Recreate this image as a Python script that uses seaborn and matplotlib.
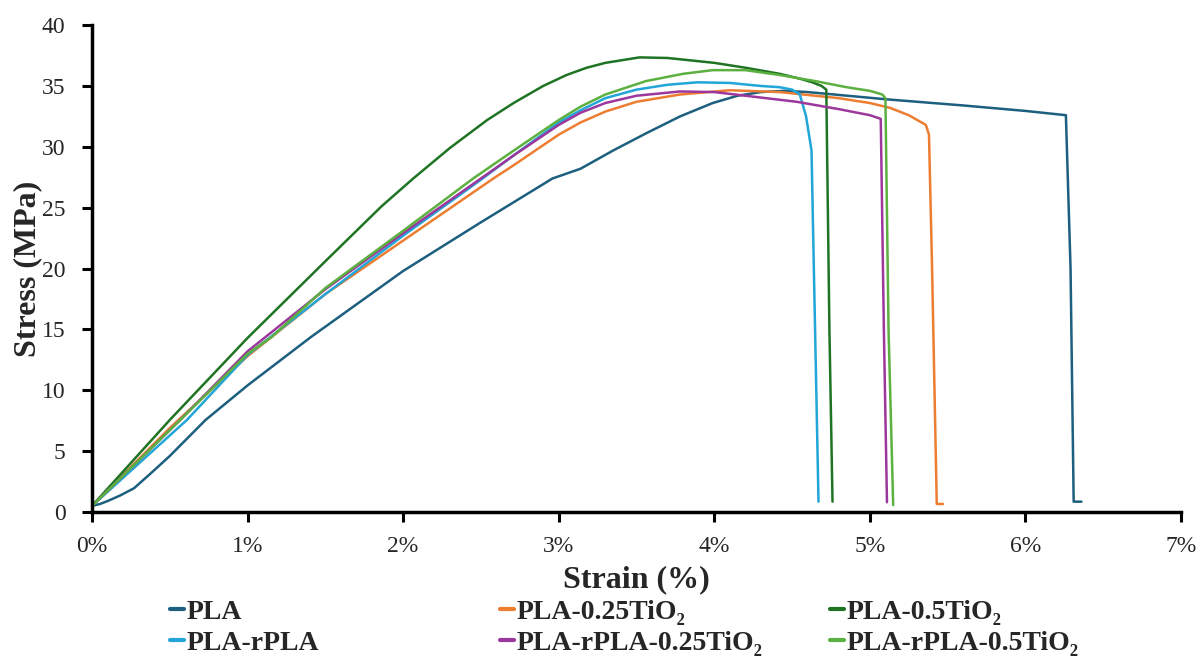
import pandas as pd
import seaborn as sns
import matplotlib.pyplot as plt

# stress-strain curves (strain in %, stress in MPa)
pla_x = [0, 0.05, 0.1, 0.18, 0.27, 0.38, 0.5, 0.73, 1.0, 1.41, 2.0, 2.5, 2.96, 3.14,
         3.35, 3.56, 3.78, 3.99, 4.15, 4.3, 4.45, 4.6, 5.11, 5.6, 6.0, 6.26, 6.29, 6.31, 6.36]
pla_y = [0.5, 0.65, 0.9, 1.35, 1.95, 3.2, 4.6, 7.56, 10.4, 14.4, 19.8, 23.8, 27.4, 28.2,
         29.7, 31.1, 32.5, 33.6, 34.2, 34.5, 34.6, 34.5, 33.9, 33.4, 32.95, 32.6, 20, 0.85, 0.85]

pla025_x = [0, 0.5, 1.0, 1.5, 2.0, 2.58, 2.7, 3.0, 3.14, 3.3, 3.5, 3.78, 4.1, 4.42,
            4.8, 5.0, 5.13, 5.25, 5.36, 5.38, 5.40, 5.43, 5.47]
pla025_y = [0.5, 6.9, 12.8, 17.9, 22.3, 27.4, 28.4, 31.0, 32.0, 32.9, 33.7, 34.3, 34.65, 34.5,
            34.0, 33.6, 33.2, 32.6, 31.8, 31.0, 20, 0.66, 0.66]

pla05_x = [0, 0.5, 1.0, 1.5, 1.86, 2.065, 2.3, 2.54, 2.71, 2.9, 3.05, 3.18, 3.3, 3.52, 3.7, 3.85,
           4.0, 4.2, 4.42, 4.55, 4.63, 4.69, 4.72, 4.74, 4.76]
pla05_y = [0.5, 7.56, 14.3, 20.6, 25.1, 27.4, 29.9, 32.2, 33.6, 35.0, 35.9, 36.5, 36.9, 37.35, 37.3, 37.1,
           36.9, 36.5, 36.0, 35.6, 35.3, 35.0, 34.7, 15, 0.85]

rpla_x = [0, 0.61, 1.0, 1.5, 2.0, 2.5, 2.7, 3.0, 3.14, 3.3, 3.5, 3.7, 3.89, 4.1, 4.3,
          4.42, 4.5, 4.55, 4.59, 4.625, 4.64, 4.67]
rpla_y = [0.5, 7.56, 12.9, 17.9, 22.7, 27.3, 29.2, 32.0, 33.0, 34.0, 34.7, 35.1, 35.3, 35.25, 35.0,
          34.9, 34.7, 34.3, 32.5, 29.7, 20, 0.85]

rpla025_x = [0, 0.567, 1.0, 1.5, 2.0, 2.5, 2.7, 3.0, 3.14, 3.3, 3.5, 3.78, 4.0, 4.2,
             4.53, 4.8, 5.0, 5.07, 5.09, 5.11]
rpla025_y = [0.5, 7.56, 13.2, 18.3, 22.9, 27.4, 29.2, 31.8, 32.8, 33.6, 34.2, 34.55, 34.5, 34.2,
             33.7, 33.1, 32.6, 32.3, 15, 0.8]

rpla05_x = [0, 0.567, 1.0, 1.157, 1.5, 2.0, 2.45, 2.7, 3.0, 3.14, 3.3, 3.56, 3.8, 3.99,
            4.2, 4.42, 4.65, 4.85, 5.0, 5.08, 5.10, 5.12, 5.15]
rpla05_y = [0.5, 7.56, 13.0, 14.4, 18.4, 23.1, 27.4, 29.6, 32.2, 33.3, 34.3, 35.4, 36.0, 36.3,
            36.3, 35.9, 35.4, 34.9, 34.6, 34.3, 34.0, 15, 0.57]

names = ["PLA", "PLA-0.25TiO₂", "PLA-0.5TiO₂",
         "PLA-rPLA", "PLA-rPLA-0.25TiO₂", "PLA-rPLA-0.5TiO₂"]
colors = ["#1d5f7e", "#ed7d31", "#1f7424", "#22a5d8", "#9c379c", "#5cb040"]
curves = [(pla_x, pla_y), (pla025_x, pla025_y), (pla05_x, pla05_y),
          (rpla_x, rpla_y), (rpla025_x, rpla025_y), (rpla05_x, rpla05_y)]

x_ticks = [0, 1, 2, 3, 4, 5, 6, 7]
x_labels = ["0%", "1%", "2%", "3%", "4%", "5%", "6%", "7%"]
y_ticks = [0, 5, 10, 15, 20, 25, 30, 35, 40]

sns.set_style("ticks")
plt.rcParams["font.family"] = ["Liberation Serif", "DejaVu Serif"]

fig = plt.figure(figsize=(11.99, 6.61), dpi=100)
ax = fig.add_axes([0.0767, 0.2254, 0.9083, 0.7366])

lines = {}
for name, col, (xs, ys) in zip(names, colors, curves):
    df = pd.DataFrame({"strain": xs, "stress": ys})
    sns.lineplot(data=df, x="strain", y="stress", color=col, linewidth=1.8,
                 sort=False, estimator=None, ax=ax, label=name)
    lines[name] = ax.get_lines()[-1]
ax.get_legend().remove()

ax.set_xlim(0, 7)
ax.set_ylim(0, 40)
ax.set_xticks(x_ticks)
ax.set_xticklabels(x_labels)
ax.set_yticks(y_ticks)
ax.tick_params(labelsize=17, width=2.2, length=7, color="black")
ax.tick_params(axis="x", pad=10)
ax.tick_params(axis="y", pad=12)
for s in ["left", "bottom"]:
    ax.spines[s].set_linewidth(2.5)
    ax.spines[s].set_color("black")
sns.despine(ax=ax)

ax.set_xlabel("Strain (%)", fontsize=23, fontweight="bold", labelpad=6)
ax.set_ylabel("Stress (MPa)", fontsize=23, fontweight="bold", labelpad=0)

# three legend columns, two rows each
col_pos = [0.142, 0.417, 0.692]
for i, xpos in enumerate(col_pos):
    pair = [names[i], names[i + 3]]
    leg = fig.legend([lines[n] for n in pair], pair, loc="center left",
                     bbox_to_anchor=(xpos, 0.05), frameon=False,
                     borderpad=0, borderaxespad=0,
                     handlelength=0.5, handletextpad=0.1, labelspacing=0.2,
                     prop={"size": 20, "weight": "bold"})
    for h in leg.legend_handles:
        h.set_linewidth(3)

plt.savefig("out.png", dpi=100)
